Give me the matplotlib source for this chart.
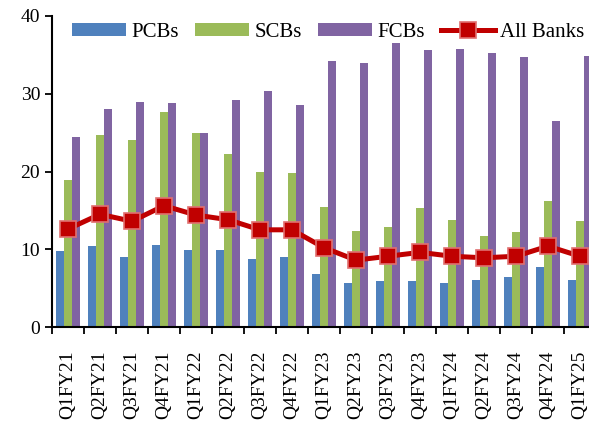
import matplotlib
matplotlib.use("Agg")
import matplotlib.pyplot as plt
import numpy as np

quarters = ["Q1FY21", "Q2FY21", "Q3FY21", "Q4FY21", "Q1FY22", "Q2FY22", "Q3FY22", "Q4FY22",
            "Q1FY23", "Q2FY23", "Q3FY23", "Q4FY23", "Q1FY24", "Q2FY24", "Q3FY24", "Q4FY24", "Q1FY25"]
pcbs = [9.8, 10.4, 9.0, 10.6, 9.9, 9.9, 8.7, 9.0, 6.8, 5.6, 5.9, 5.9, 5.6, 6.1, 6.4, 7.7, 6.1]
scbs = [18.9, 24.7, 24.0, 27.7, 25.0, 22.2, 19.9, 19.8, 15.4, 12.4, 12.8, 15.3, 13.7, 11.7, 12.2, 16.2, 13.6]
fcbs = [24.5, 28.1, 28.9, 28.8, 25.0, 29.2, 30.3, 28.6, 34.2, 34.0, 36.5, 35.6, 35.8, 35.3, 34.7, 26.5, 34.9]
all_banks = [12.6, 14.5, 13.6, 15.6, 14.4, 13.8, 12.5, 12.5, 10.2, 8.6, 9.1, 9.6, 9.1, 8.9, 9.1, 10.4, 9.1]
yticks = [0, 10, 20, 30, 40]

plt.rcParams['font.family'] = ['Liberation Serif', 'DejaVu Serif']

fig = plt.figure(figsize=(5.89, 4.25), dpi=100)
n = len(quarters)
ax = fig.add_axes([52/589, 98/425, (n*32)/589, 311/425])
x = np.arange(n)
w = 0.25
b1 = ax.bar(x - w, pcbs, w, color="#4F81BD", label="PCBs")
b2 = ax.bar(x, scbs, w, color="#9BBB59", label="SCBs")
b3 = ax.bar(x + w, fcbs, w, color="#8064A2", label="FCBs")
l1, = ax.plot(x, all_banks, color="#C00000", lw=3.6, marker="s", ms=11,
              markerfacecolor="#C00000", markeredgecolor="#E07070", mew=1.2, label="All Banks")

ax.set_xlim(-0.5, n - 0.5)
ax.set_ylim(0, 40)
ax.set_yticks(yticks)
ax.tick_params(axis='y', labelsize=14, direction='out', length=5, width=1.3)
ax.set_xticks(x)
ax.set_xticklabels(quarters, rotation=90, fontsize=14)
ax.tick_params(axis='x', which='major', length=0, pad=17)
ax.set_xticks(np.arange(-0.5, n, 1), minor=True)
ax.tick_params(axis='x', which='minor', length=5, width=1.3, direction='out')
for s in ['top', 'right']:
    ax.spines[s].set_visible(False)
for s in ['left', 'bottom']:
    ax.spines[s].set_linewidth(1.5)

leg = fig.legend([b1, b2, b3, l1], ["PCBs", "SCBs", "FCBs", "All Banks"],
                 loc='upper left', bbox_to_anchor=(72/589, 1 - 23/425),
                 ncol=4, frameon=False, fontsize=15, handlelength=2.6, handleheight=0.6,
                 handletextpad=0.25, columnspacing=0.77, borderaxespad=0, borderpad=0)

fig.savefig("out.png", dpi=100)
